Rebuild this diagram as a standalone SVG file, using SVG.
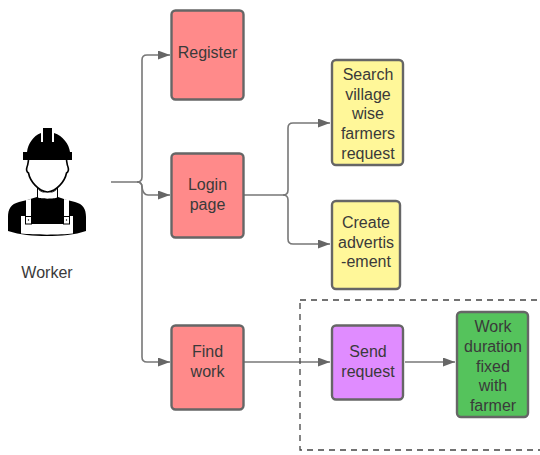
<svg xmlns="http://www.w3.org/2000/svg" width="540" height="455" viewBox="0 0 540 455">
<defs>
<style>
.n{stroke:#666;stroke-width:2.4}
.t{font-family:"Liberation Sans",Arial,sans-serif;font-size:16px;fill:#3a3a3a;text-anchor:middle}
.c{fill:none;stroke:#777;stroke-width:1.6}
</style>
<marker id="a" markerUnits="userSpaceOnUse" markerWidth="13" markerHeight="10" refX="12" refY="4.500" orient="auto"><path d="M0 0L12 4.500L0 9Z" fill="#666"/></marker>
</defs>
<rect width="540" height="455" fill="#fff"/>
<g id="connectors">
<path class="c" d="M111 182H137Q142 182 142 177V60Q142 55 147 55H170" marker-end="url(#a)"/>
<path class="c" d="M137 182Q142 182 142 187V357Q142 362 147 362H170" marker-end="url(#a)"/>
<path class="c" d="M137 182Q142 182 142 187Q143 195 148 195H170" marker-end="url(#a)"/>
<path class="c" d="M244 195H283Q288 195 288 190V128Q288 123 293 123H330" marker-end="url(#a)"/>
<path class="c" d="M283 195Q288 195 288 200V239Q288 244 293 244H330" marker-end="url(#a)"/>
<path class="c" d="M244 362H330" marker-end="url(#a)"/>
<path class="c" d="M405 362H455" marker-end="url(#a)"/>
</g>
<rect id="boundary" x="300" y="300" width="245" height="150" fill="none" stroke="#444" stroke-width="1.3" stroke-dasharray="6 5"/>
<g id="worker">
<path d="M43 128H52V142H54V133C63 136 69 144 70 152H72V160H23V152H27C28 144 33 136 41 133V142H43Z" fill="#000"/>
<path d="M28.500 160C28 163 28 165 27 167C26 170 27 172 28.500 173C30 181 38 191 47.500 192C57 191 65 181 66.500 173C68 172 69 170 68 167C67 165 67 163 66.500 160" fill="#fff" stroke="#000" stroke-width="1.600"/>
<path d="M37 187V197C30 199 24 201 19 202C11 204 8 209 8 217V231C20 235 33 236 47 236C61 236 75 235 86 231V217C86 209 83 204 75 202C70 201 64 199 58 197V187C55 191 51 193 47.500 193C44 193 40 191 37 187Z" fill="#000"/>
<path d="M38 189V197.500C40 199 55 199 57 197.500V189C55 192 51 193 47.500 193C44 193 40 192 38 189Z" fill="#fff"/>
<path d="M26 200L31 199V216H32V224H63V216H64V199L69 200V216H73V233.500C60 235 34 235 21 233.500V216H26Z" fill="#fff"/>
<path d="M25 216H32V224.500H25Z M63 216H70V224.500H63Z" fill="#000"/>
<rect x="26" y="217" width="5" height="6.500" fill="#fff"/>
<rect x="64" y="217" width="5" height="6.500" fill="#fff"/>
<circle cx="28.500" cy="220" r="0.700" fill="#000"/>
<circle cx="66.500" cy="220" r="0.700" fill="#000"/>
<text class="t" x="47" y="278">Worker</text>
</g>
<g id="register"><rect class="n" x="171.500" y="10.500" width="72" height="89" rx="4" fill="#ff8a8a"/><text class="t" x="207.500" y="58">Register</text></g>
<g id="login"><rect class="n" x="171.500" y="153.500" width="72" height="84" rx="4" fill="#ff8a8a"/><text class="t" x="207.500" y="190">Login</text><text class="t" x="207.500" y="210">page</text></g>
<g id="find"><rect class="n" x="171.500" y="325.500" width="72" height="84" rx="4" fill="#ff8a8a"/><text class="t" x="207.500" y="357">Find</text><text class="t" x="207.500" y="377">work</text></g>
<g id="search"><rect class="n" x="332" y="60" width="71" height="105" rx="4" fill="#fff799"/><text class="t" x="368" y="80">Search</text><text class="t" x="368" y="100">village</text><text class="t" x="368" y="119">wise</text><text class="t" x="368" y="139">farmers</text><text class="t" x="368" y="159">request</text></g>
<g id="create"><rect class="n" x="332" y="201" width="68" height="88" rx="4" fill="#fff799"/><text class="t" x="366" y="228">Create</text><text class="t" x="366" y="248">advertis</text><text class="t" x="366" y="267">-ement</text></g>
<g id="send"><rect class="n" x="332" y="325.500" width="71" height="74" rx="4" fill="#e08cff"/><text class="t" x="368" y="357">Send</text><text class="t" x="368" y="377">request</text></g>
<g id="duration"><rect class="n" x="457" y="312" width="71" height="105" rx="4" fill="#55c35c"/><text class="t" x="493" y="332">Work</text><text class="t" x="493" y="352">duration</text><text class="t" x="493" y="372">fixed</text><text class="t" x="493" y="391">with</text><text class="t" x="493" y="411">farmer</text></g>
</svg>
